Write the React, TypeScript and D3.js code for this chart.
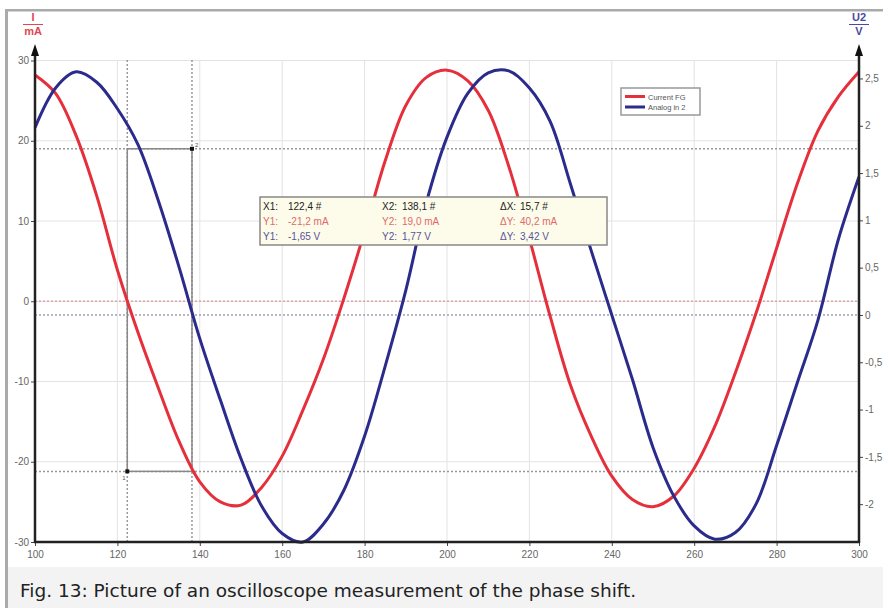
import { useEffect, useRef } from "react";
import * as d3 from "d3";

// sample positions (x axis, every 5 units)
const tValues = [
  100, 105, 110, 115, 120, 125, 130, 135, 140, 145, 150, 155, 160, 165, 170, 175, 180, 185, 190, 195, 200,
  205, 210, 215, 220, 225, 230, 235, 240, 245, 250, 255, 260, 265, 270, 275, 280, 285, 290, 295, 300,
];

// Current FG in mA (left axis)
const currentFG = [
  28.2, 25.9, 20.6, 13.1, 3.9, -3.9, -10.9, -17.5, -22.5, -25.0, -25.4, -23.2, -19.3, -13.6, -7.2, 0.4, 8.7,
  17.5, 24.4, 27.9, 28.8, 27.5, 23.8, 16.8, 7.8, -1.8, -10.5, -16.8, -21.8, -24.7, -25.6, -24.3, -20.8, -15.6,
  -8.9, -1.5, 6.6, 14.6, 21.2, 25.5, 28.6,
];

// Analog in 2 in V (right axis)
const analogIn2 = [
  1.98, 2.4, 2.57, 2.46, 2.18, 1.8, 1.2, 0.5, -0.25, -0.9, -1.52, -2.02, -2.31, -2.4, -2.21, -1.85, -1.28,
  -0.54, 0.26, 1.19, 1.88, 2.34, 2.56, 2.58, 2.4, 2.05, 1.38, 0.68, 0.0, -0.68, -1.4, -1.91, -2.23, -2.37,
  -2.3, -2.0, -1.38, -0.72, -0.06, 0.8, 1.46,
];

const xTicks = [100, 120, 140, 160, 180, 200, 220, 240, 260, 280, 300];
const leftTicks = [-30, -20, -10, 0, 10, 20, 30];
const rightTicks = [-2, -1.5, -1, -0.5, 0, 0.5, 1, 1.5, 2, 2.5];

// cursor readout
const cursorX = [122.4, 138.1];
const cursorI = [-21.2, 19.0];
const readoutRows = [
  ["X1:", "122,4 #", "X2:", "138,1 #", "\u0394X:", "15,7 #"],
  ["Y1:", "-21,2 mA", "Y2:", "19,0 mA", "\u0394Y:", "40,2 mA"],
  ["Y1:", "-1,65 V", "Y2:", "1,77 V", "\u0394Y:", "3,42 V"],
];
const readoutColors = ["#222", "#e06a6a", "#55559a"];

const legendNames = ["Current FG", "Analog in 2"];
const RED = "#e5303c";
const BLUE = "#2b2b8c";

const fmt = (d: number) => String(d).replace(".", ",");

function Scope() {
  const ref = useRef<SVGSVGElement | null>(null);

  useEffect(() => {
    const svg = d3.select(ref.current);
    svg.selectAll("*").remove();

    const x = d3.scaleLinear().domain([100, 300]).range([35, 859]);
    const yI = d3.scaleLinear().domain([-30, 30]).range([542, 60.5]);
    const yU = d3.scaleLinear().domain([-2.4, 2.69]).range([542, 60.5]);

    // frame + caption
    svg.append("rect").attr("x", 0).attr("y", 0).attr("width", 883).attr("height", 608).attr("fill", "#fff");
    svg.append("rect").attr("x", 8).attr("y", 567).attr("width", 875).attr("height", 41).attr("fill", "#f3f3f3");
    svg.append("rect").attr("x", 5).attr("y", 9).attr("width", 3).attr("height", 599).attr("fill", "#aaa");
    svg.append("rect").attr("x", 5).attr("y", 9).attr("width", 878).attr("height", 2.5).attr("fill", "#aaa");
    svg.append("text")
      .attr("x", 20).attr("y", 597)
      .attr("font-family", "DejaVu Sans, sans-serif").attr("font-size", 18.5).attr("fill", "#222")
      .text("Fig. 13: Picture of an oscilloscope measurement of the phase shift.");

    // grid
    const grid = svg.append("g").attr("stroke", "#e3e3e3").attr("stroke-width", 1);
    xTicks.forEach((t) => {
      grid.append("line").attr("x1", x(t)).attr("x2", x(t)).attr("y1", 60).attr("y2", 542);
    });
    leftTicks.forEach((t) => {
      grid.append("line").attr("x1", 35).attr("x2", 859).attr("y1", yI(t)).attr("y2", yI(t));
    });

    // zero reference lines
    svg.append("line").attr("x1", 35).attr("x2", 859).attr("y1", yI(0)).attr("y2", yI(0))
      .attr("stroke", "#e2a4a8").attr("stroke-width", 1.5).attr("stroke-dasharray", "2,2");
    svg.append("line").attr("x1", 35).attr("x2", 859).attr("y1", yU(0)).attr("y2", yU(0))
      .attr("stroke", "#a0a0b8").attr("stroke-width", 1.5).attr("stroke-dasharray", "2,2");

    // cursor lines
    const cur = svg.append("g").attr("stroke", "#999").attr("stroke-width", 1.5).attr("stroke-dasharray", "2,2");
    cursorX.forEach((c) => {
      cur.append("line").attr("x1", x(c)).attr("x2", x(c)).attr("y1", 60).attr("y2", 542);
    });
    cursorI.forEach((c) => {
      cur.append("line").attr("x1", 35).attr("x2", 859).attr("y1", yI(c)).attr("y2", yI(c));
    });

    // cursor rectangle
    svg.append("rect")
      .attr("x", x(cursorX[0])).attr("y", yI(cursorI[1]))
      .attr("width", x(cursorX[1]) - x(cursorX[0])).attr("height", yI(cursorI[0]) - yI(cursorI[1]))
      .attr("fill", "none").attr("stroke", "#888").attr("stroke-width", 1.5);
    [[cursorX[0], cursorI[0]], [cursorX[1], cursorI[1]]].forEach(([cx, cy]) => {
      svg.append("rect").attr("x", x(cx) - 2).attr("y", yI(cy) - 2).attr("width", 4).attr("height", 4).attr("fill", "#111");
    });
    svg.append("text").attr("x", x(cursorX[0]) - 5).attr("y", yI(cursorI[0]) + 9)
      .attr("font-size", 6).attr("font-family", "Liberation Sans, sans-serif").attr("fill", "#555").text("1");
    svg.append("text").attr("x", x(cursorX[1]) + 3).attr("y", yI(cursorI[1]) - 2)
      .attr("font-size", 6).attr("font-family", "Liberation Sans, sans-serif").attr("fill", "#555").text("2");

    // curves
    const lineI = d3.line<number>().x((_, i) => x(tValues[i])).y((d) => yI(d)).curve(d3.curveCatmullRom);
    const lineU = d3.line<number>().x((_, i) => x(tValues[i])).y((d) => yU(d)).curve(d3.curveCatmullRom);
    svg.append("path").datum(currentFG).attr("d", lineI).attr("fill", "none").attr("stroke", RED).attr("stroke-width", 3);
    svg.append("path").datum(analogIn2).attr("d", lineU).attr("fill", "none").attr("stroke", BLUE).attr("stroke-width", 3);

    // axes
    const axisFont = (g: any) => {
      g.selectAll("text").attr("font-family", "Liberation Sans, Arial, sans-serif").attr("font-size", 10).attr("fill", "#666");
      g.selectAll(".tick line").attr("stroke", "#444");
      g.select(".domain").remove();
    };
    svg.append("g").attr("transform", "translate(0,542)")
      .call(d3.axisBottom(x).tickValues(xTicks).tickSize(4).tickPadding(5).tickFormat((d: any) => fmt(d)))
      .call(axisFont);
    svg.append("g").attr("transform", "translate(35,0)")
      .call(d3.axisLeft(yI).tickValues(leftTicks).tickSize(4).tickPadding(2).tickFormat((d: any) => fmt(d)))
      .call(axisFont);
    svg.append("g").attr("transform", "translate(859,0)")
      .call(d3.axisRight(yU).tickValues(rightTicks).tickSize(4).tickPadding(2).tickFormat((d: any) => fmt(d)))
      .call(axisFont);

    // axis lines with arrows
    const ax = svg.append("g").attr("stroke", "#222").attr("stroke-width", 2.5);
    ax.append("line").attr("x1", 34).attr("x2", 860).attr("y1", 542).attr("y2", 542);
    ax.append("line").attr("x1", 35).attr("x2", 35).attr("y1", 543).attr("y2", 52);
    ax.append("line").attr("x1", 859).attr("x2", 859).attr("y1", 543).attr("y2", 52);
    [35, 859].forEach((ax0) => {
      svg.append("path").attr("d", `M${ax0},44 L${ax0 - 4},56 L${ax0 + 4},56 Z`).attr("fill", "#111");
    });

    // axis unit labels
    const unit = (cx: number, top: string, bottom: string, color: string) => {
      const g = svg.append("g").attr("fill", color).attr("font-family", "Liberation Sans, Arial, sans-serif")
        .attr("font-size", 11).attr("font-weight", "bold").attr("text-anchor", "middle");
      g.append("text").attr("x", cx).attr("y", 21).text(top);
      g.append("line").attr("x1", cx - 10).attr("x2", cx + 10).attr("y1", 24.5).attr("y2", 24.5).attr("stroke", color).attr("stroke-width", 1);
      g.append("text").attr("x", cx).attr("y", 35).text(bottom);
    };
    unit(33, "I", "mA", "#e0474f");
    unit(859, "U2", "V", "#4a4aa0");

    // legend
    const lg = svg.append("g").attr("transform", "translate(621,88)");
    lg.append("rect").attr("width", 79).attr("height", 27).attr("fill", "#fff").attr("stroke", "#999").attr("stroke-width", 1.5);
    legendNames.forEach((n, i) => {
      lg.append("line").attr("x1", 4).attr("x2", 24).attr("y1", 8.5 + i * 10.5).attr("y2", 8.5 + i * 10.5)
        .attr("stroke", i === 0 ? RED : BLUE).attr("stroke-width", 3);
      lg.append("text").attr("x", 27).attr("y", 11.5 + i * 10.5).attr("font-size", 7.5)
        .attr("font-family", "Liberation Sans, Arial, sans-serif").attr("fill", "#555").text(n);
    });

    // readout box
    const rb = svg.append("g").attr("transform", "translate(260,197)");
    rb.append("rect").attr("width", 347).attr("height", 48).attr("fill", "#fdfbea").attr("stroke", "#888").attr("stroke-width", 1.5);
    const colX = [3, 28, 122, 142, 240, 260];
    readoutRows.forEach((row, r) => {
      row.forEach((s, c) => {
        rb.append("text").attr("x", colX[c]).attr("y", 13 + r * 15)
          .attr("font-family", "Liberation Sans, Arial, sans-serif").attr("font-size", 10)
          .attr("fill", readoutColors[r]).text(s);
      });
    });
  }, []);

  return <svg ref={ref} width={883} height={608} style={{ position: "absolute", left: 0, top: 0 }} />;
}

export default function App() {
  return <Scope />;
}
